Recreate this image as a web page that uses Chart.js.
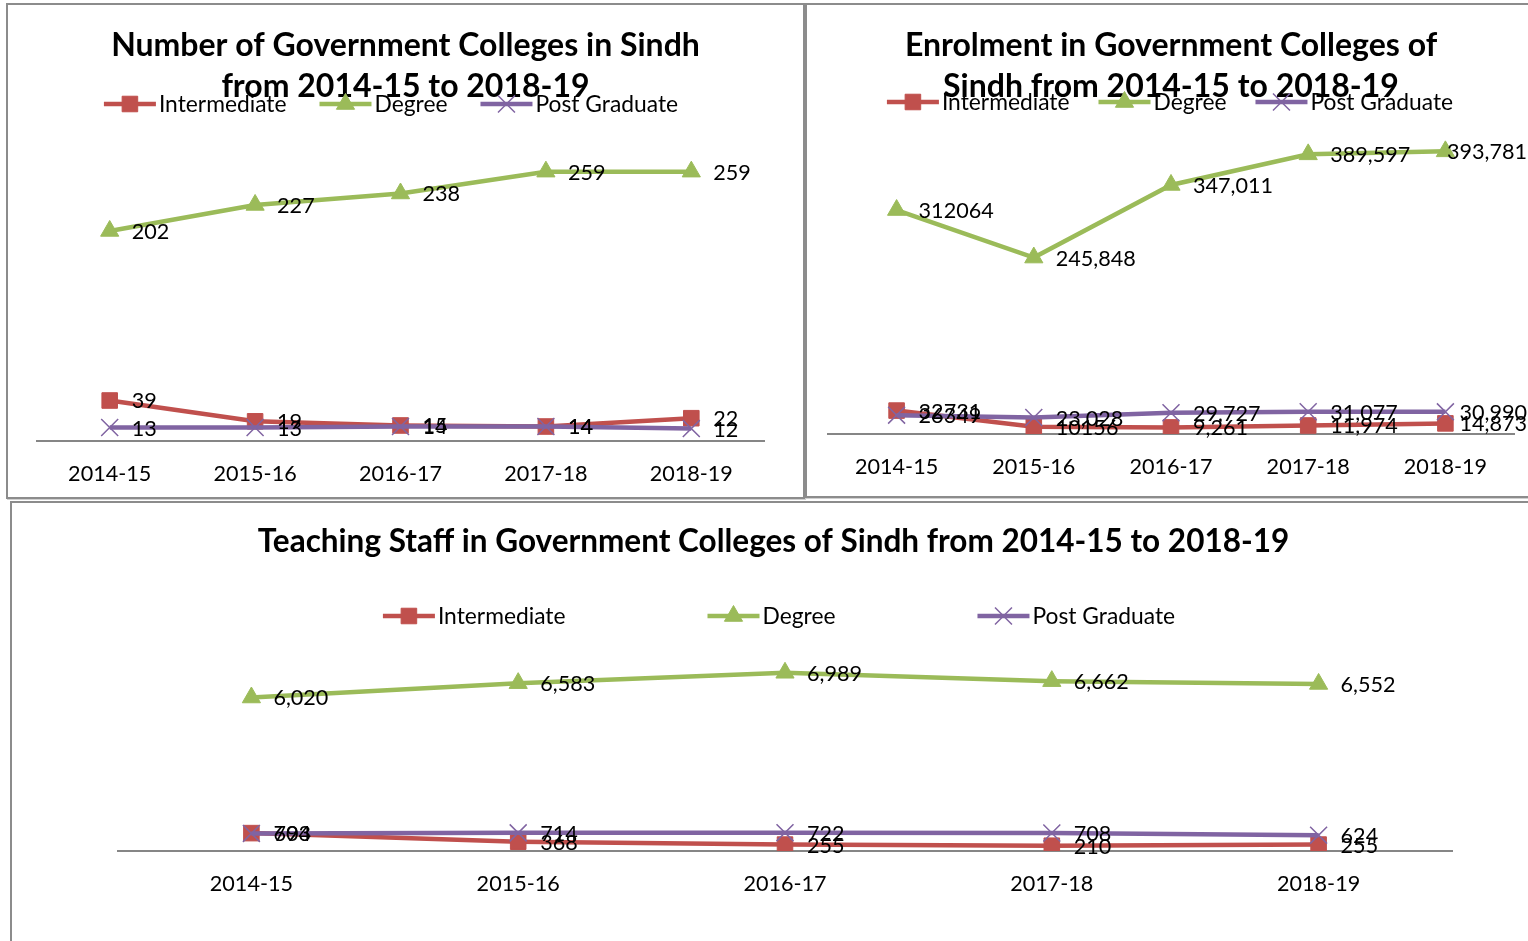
<!DOCTYPE html>
<html><head><meta charset="utf-8">
<script src="https://cdn.jsdelivr.net/npm/chart.js@4/dist/chart.umd.min.js"></script>
<style>
body{margin:0;background:#fff;width:1528px;height:941px;overflow:hidden;position:relative;}
.panel{position:absolute;border:2px solid #8c8c8c;box-sizing:border-box;background:#fff;box-shadow:1px 1px 0 #d0d0d0;}
canvas{position:absolute;}
</style></head><body>
<div class="panel" style="left:6px;top:3px;width:799px;height:496px"></div>
<div class="panel" style="left:805px;top:3px;width:730px;height:495px"></div>
<div class="panel" style="left:10px;top:501px;width:1525px;height:450px"></div>
<canvas id="c1" width="794" height="490" style="left:9px;top:6px"></canvas>
<canvas id="c2" width="720" height="489" style="left:808px;top:6px"></canvas>
<canvas id="c3" width="1515" height="439" style="left:13px;top:502px"></canvas>
<script>
// ---------- data ----------
const years = ['2014-15', '2015-16', '2016-17', '2017-18', '2018-19'];
const seriesNames = ['Intermediate', 'Degree', 'Post Graduate'];

const collegesIntermediate = [39, 19, 15, 14, 22];
const collegesDegree       = [202, 227, 238, 259, 259];
const collegesPostGraduate = [13, 13, 14, 14, 12];

const enrolIntermediate = [32731, 10156, 9261, 11974, 14873];
const enrolDegree       = [312064, 245848, 347011, 389597, 393781];
const enrolPostGraduate = [26349, 23028, 29727, 31077, 30990];
// label indices shown without thousands separators in the original
const enrolPlainIntermediate = [0, 1];
const enrolPlainDegree = [0];
const enrolPlainPostGraduate = [0];

const staffIntermediate = [704, 368, 255, 210, 255];
const staffDegree       = [6020, 6583, 6989, 6662, 6552];
const staffPostGraduate = [693, 714, 722, 708, 624];

// ---------- styling ----------
const RED = '#C0504D', GREEN = '#9BBB59', PURPLE = '#8064A2';
const FONT = 'Lato';
const NUM_SIZE = 21.6, LEG_SIZE = 22.8;
Chart.defaults.font.family = FONT;
Chart.defaults.color = '#000';

function makeDatasets(a, b, c, plain) {
  return [
    {label: seriesNames[0], data: a, borderColor: RED, backgroundColor: RED, borderWidth: 4.5,
     pointStyle: 'rect', pointRadius: 11, pointBorderWidth: 1, pointBackgroundColor: RED, pointBorderColor: RED, order: 2, plain: plain ? plain[0] : []},
    {label: seriesNames[1], data: b, borderColor: GREEN, backgroundColor: GREEN, borderWidth: 4.5,
     pointStyle: 'triangle', pointRadius: 10.5, pointBorderWidth: 1, pointBackgroundColor: GREEN, pointBorderColor: GREEN, order: 1, plain: plain ? plain[1] : []},
    {label: seriesNames[2], data: c, borderColor: PURPLE, backgroundColor: PURPLE, borderWidth: 4.5,
     pointStyle: 'crossRot', pointRadius: 12, pointBorderWidth: 1.5, pointBackgroundColor: PURPLE, pointBorderColor: PURPLE, order: 0, plain: plain ? plain[2] : []}
  ];
}

const dataLabels = {
  id: 'dataLabels',
  afterDatasetsDraw(chart, args, o) {
    const ctx = chart.ctx;
    ctx.save();
    ctx.font = NUM_SIZE + 'px ' + FONT;
    ctx.fillStyle = '#000';
    ctx.textBaseline = 'middle';
    ctx.textAlign = 'left';
    chart.data.datasets.forEach((ds, i) => {
      const meta = chart.getDatasetMeta(i);
      meta.data.forEach((pt, j) => {
        const v = ds.data[j];
        const txt = (o.commas && !(ds.plain || []).includes(j)) ? v.toLocaleString('en-US') : String(v);
        const w = ctx.measureText(txt).width;
        const x = Math.min(pt.x + o.dx, chart.width - w - 1);
        ctx.fillText(txt, x, pt.y + 1);
      });
    });
    ctx.restore();
  }
};

const lineLegend = {
  id: 'lineLegend',
  afterDraw(chart, args, o) {
    const ctx = chart.ctx;
    ctx.save();
    ctx.font = LEG_SIZE + 'px ' + FONT;
    ctx.textBaseline = 'middle';
    ctx.textAlign = 'left';
    const L = 52, tg = 3;
    const items = chart.data.datasets.map(ds => ({ds, w: L + tg + ctx.measureText(ds.label).width}));
    const total = items.reduce((s, it) => s + it.w, 0) + o.gap * (items.length - 1);
    let x = o.cx - total / 2;
    items.forEach(it => {
      const ds = it.ds;
      ctx.strokeStyle = ds.borderColor;
      ctx.lineWidth = ds.borderWidth;
      ctx.beginPath(); ctx.moveTo(x, o.y); ctx.lineTo(x + L, o.y); ctx.stroke();
      ctx.fillStyle = ds.pointBackgroundColor;
      ctx.strokeStyle = ds.pointBorderColor;
      ctx.lineWidth = ds.pointBorderWidth;
      Chart.helpers.drawPoint(ctx, {pointStyle: ds.pointStyle, radius: ds.pointRadius, borderWidth: ds.pointBorderWidth, rotation: 0}, x + L / 2, o.y);
      ctx.fillStyle = '#000';
      ctx.fillText(ds.label, x + L + tg, o.y + 1);
      x += it.w + o.gap;
    });
    ctx.restore();
  }
};

function makeChart(id, datasets, cfg) {
  return new Chart(document.getElementById(id), {
    type: 'line',
    data: {labels: years, datasets},
    options: {
      responsive: false, animation: false, devicePixelRatio: 1,
      layout: {padding: cfg.padding},
      elements: {line: {tension: 0}},
      plugins: {
        legend: {display: false},
        tooltip: {enabled: false},
        title: {display: true, text: cfg.title, color: '#000',
          font: {family: FONT, size: cfg.titleSize, weight: 'bold', lineHeight: 41 / cfg.titleSize},
          padding: cfg.titlePad},
        dataLabels: {dx: 22, commas: cfg.commas},
        lineLegend: cfg.legend
      },
      scales: {
        x: {offset: true, grid: {display: false, drawTicks: false},
            border: {display: true, color: '#868686', width: 2},
            ticks: {padding: 20, color: '#000', font: {size: NUM_SIZE, family: FONT}}},
        y: {display: true, position: cfg.yPos, min: 0, max: cfg.max,
            grid: {display: false, drawTicks: false}, border: {display: false},
            ticks: {display: false},
            afterFit(scale) { scale.width = cfg.yWidth; }}
      }
    },
    plugins: [dataLabels, lineLegend]
  });
}

makeChart('c1', makeDatasets(collegesIntermediate, collegesDegree, collegesPostGraduate), {
  title: ['Number of Government Colleges in Sindh', 'from 2014-15 to 2018-19'],
  titleSize: 32,
  titlePad: {top: 19, bottom: 22},
  padding: {left: 28, right: 29, top: 0, bottom: -11},
  yPos: 'right', yWidth: 10,
  max: 300, commas: false,
  legend: {cx: 382, y: 98, gap: 33}
});

makeChart('c2', makeDatasets(enrolIntermediate, enrolDegree, enrolPostGraduate,
    [enrolPlainIntermediate, enrolPlainDegree, enrolPlainPostGraduate]), {
  title: ['Enrolment in Government Colleges of', 'Sindh from 2014-15 to 2018-19'],
  titleSize: 32,
  titlePad: {top: 19, bottom: 4},
  padding: {left: 20, right: 14, top: 0, bottom: -5},
  yPos: 'left', yWidth: 0,
  max: 450000, commas: true,
  legend: {cx: 362, y: 96, gap: 29}
});

makeChart('c3', makeDatasets(staffIntermediate, staffDegree, staffPostGraduate), {
  title: 'Teaching Staff in Government Colleges of Sindh from 2014-15 to 2018-19',
  titleSize: 31.5,
  titlePad: {top: 19, bottom: 85},
  padding: {left: 82, right: 76, top: 0, bottom: 24},
  yPos: 'left', yWidth: 23,
  max: 8000, commas: true,
  legend: {cx: 766, y: 114, gap: 142}
});
</script>
</body></html>
